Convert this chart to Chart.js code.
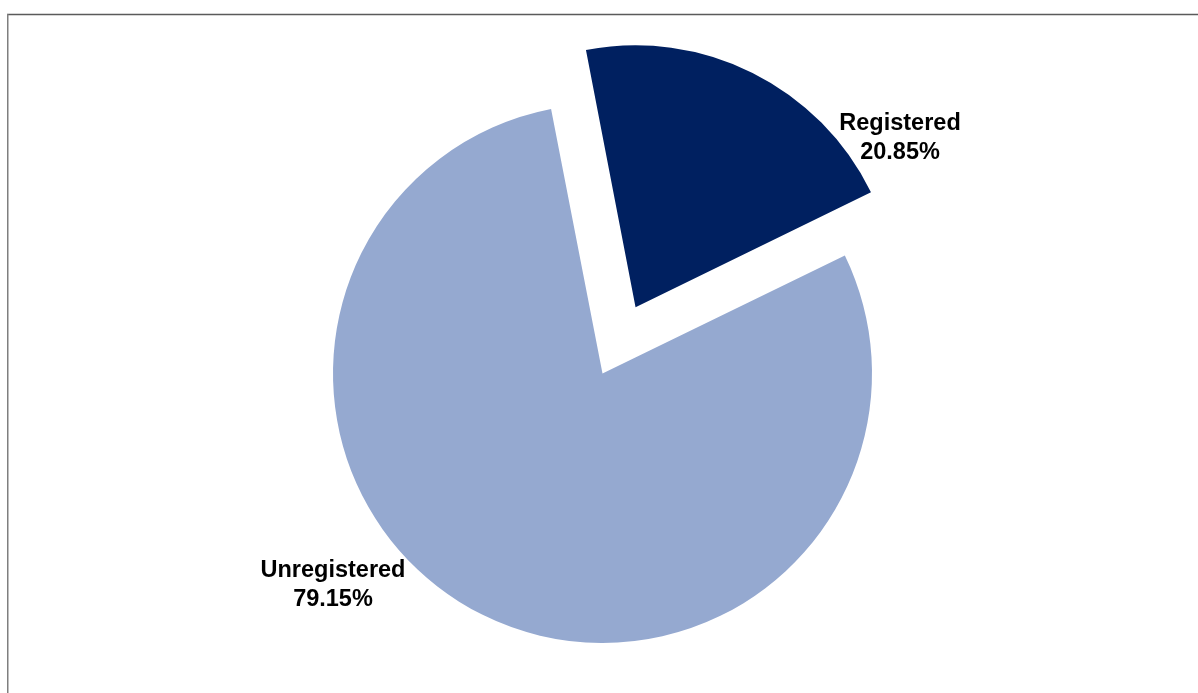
<!DOCTYPE html>
<html><head><meta charset="utf-8">
<script src="https://cdn.jsdelivr.net/npm/chart.js@4"></script>
<style>html,body{margin:0;padding:0;background:#fff;overflow:hidden}#wrap{width:1198px;height:693px;position:relative}</style>
</head><body><div id="wrap"><canvas id="c" width="1198" height="693"></canvas></div>
<script>
const categories = ['Registered', 'Unregistered'];
const shares = [20.85, 79.15];
const percentLabels = ['20.85%', '79.15%'];
const sliceColors = ['#002060', '#95A9D0'];

const PIE_RADIUS = 269.5;
const EXPLODE = 296; // v4 arc translates by offset/4
const labelPlace = [{t: 0.91, r: 1.166}, {t: 0.589, r: 1.271}];

const radiusFix = {
  id: 'radiusFix',
  afterDatasetsUpdate(chart) {
    chart.getDatasetMeta(0).data.forEach(a => {
      const off = a.options.offset || 0;
      if (off) {
        const circ = a.endAngle - a.startAngle;
        const fix = 1 - Math.sin(Math.min(Math.PI, circ));
        a.outerRadius = a.outerRadius - off * fix;
      }
    });
  }
};

const frame = {
  id: 'frame',
  beforeDraw(chart) {
    const ctx = chart.ctx;
    ctx.save();
    ctx.lineWidth = 1.5;
    ctx.strokeStyle = '#5a5a5a';
    ctx.beginPath(); ctx.moveTo(7, 14.5); ctx.lineTo(1198, 14.5); ctx.stroke();
    ctx.strokeStyle = '#7f7f7f';
    ctx.beginPath(); ctx.moveTo(7.75, 14); ctx.lineTo(7.75, 693); ctx.stroke();
    ctx.restore();
  }
};

const sliceLabels = {
  id: 'sliceLabels',
  afterDatasetsDraw(chart) {
    const ctx = chart.ctx;
    const meta = chart.getDatasetMeta(0);
    ctx.save();
    ctx.font = 'bold 23.5px "Liberation Sans", Arial, sans-serif';
    ctx.fillStyle = '#000';
    ctx.textAlign = 'center';
    ctx.textBaseline = 'middle';
    meta.data.forEach((arc, i) => {
      const p = labelPlace[i];
      const mid = (arc.startAngle + arc.endAngle) / 2;
      const off = (arc.options.offset || 0) / 4;
      const cx = arc.x + Math.cos(mid) * off;
      const cy = arc.y + Math.sin(mid) * off;
      const ang = arc.startAngle + (arc.endAngle - arc.startAngle) * p.t;
      const r = PIE_RADIUS * p.r;
      const x = cx + Math.cos(ang) * r;
      const y = cy + Math.sin(ang) * r;
      ctx.fillText(categories[i], x, y - 14);
      ctx.fillText(percentLabels[i], x, y + 14.5);
    });
    ctx.restore();
  }
};

new Chart(document.getElementById('c'), {
  type: 'pie',
  data: {
    labels: categories,
    datasets: [{
      data: shares,
      backgroundColor: sliceColors,
      borderWidth: 0,
      offset: [EXPLODE, 0]
    }]
  },
  options: {
    responsive: false,
    animation: false,
    rotation: -11,
    radius: PIE_RADIUS,
    layout: {padding: {left: 7, right: 0, top: 54, bottom: 0}},
    plugins: {legend: {display: false}, tooltip: {enabled: false}, title: {display: false}}
  },
  plugins: [frame, radiusFix, sliceLabels]
});
</script>
</body></html>
